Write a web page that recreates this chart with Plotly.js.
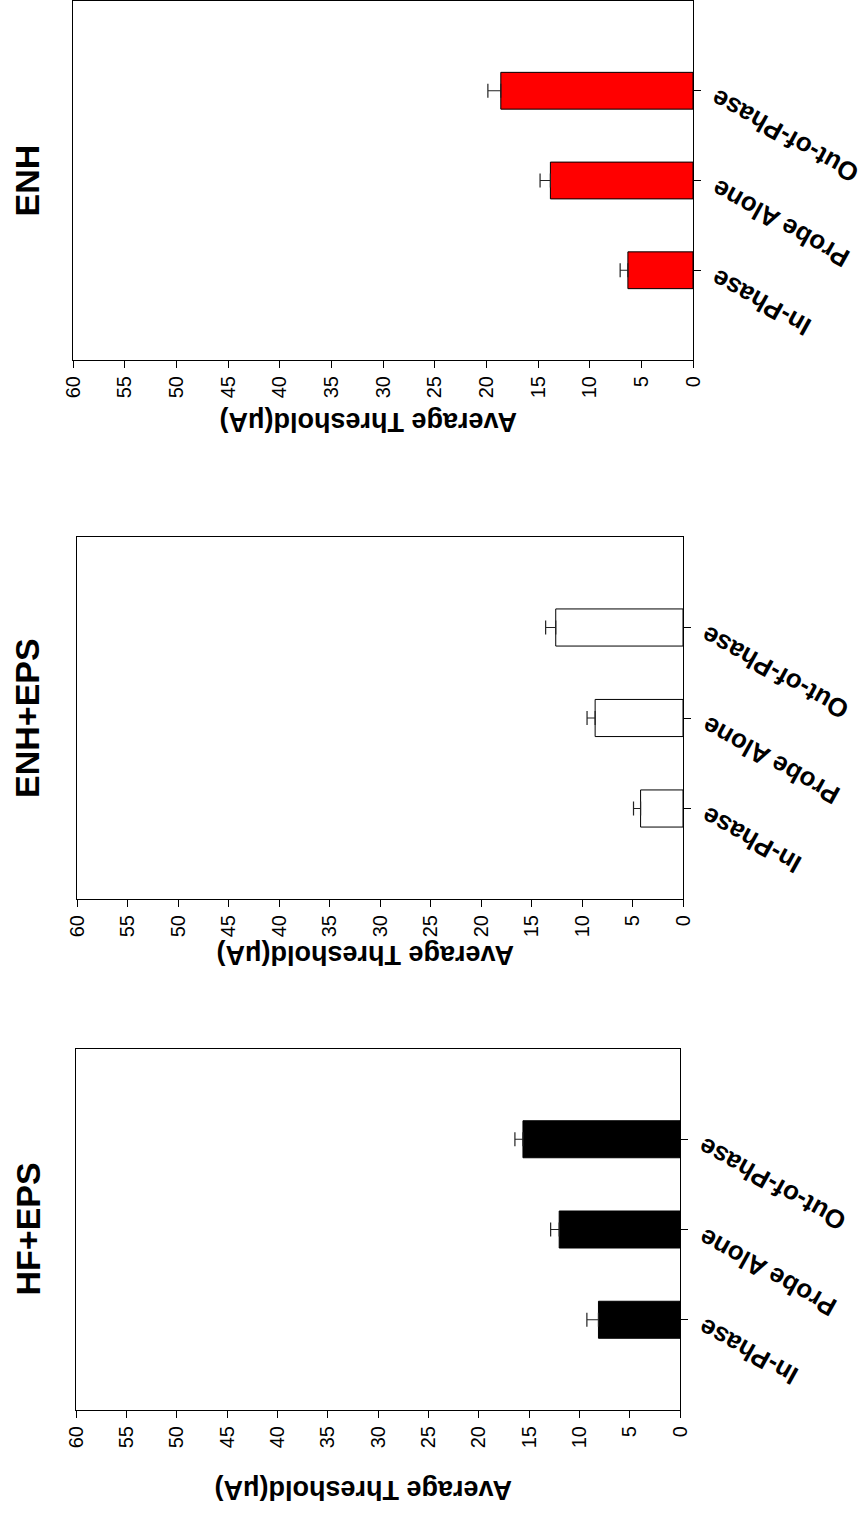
<!DOCTYPE html>
<html>
<head>
<meta charset="utf-8">
<script src="https://cdn.plot.ly/plotly-3.0.1.min.js"></script>
<style>html,body{margin:0;padding:0;background:#fff;}#chart{width:865px;height:1514px;}</style>
</head>
<body>
<div id="chart"></div>
<script>
// ---- data ----
const categories = ['In-Phase', 'Probe Alone', 'Out-of-Phase'];
const panelTitles = ['ENH', 'ENH+EPS', 'HF+EPS'];
const valueTicks = [0, 5, 10, 15, 20, 25, 30, 35, 40, 45, 50, 55, 60];
const axisTitle = 'Average Threshold(μA)';

const enhValues = [6.3, 13.8, 18.6];
const enhErrors = [0.75, 1.0, 1.25];
const enhEpsValues = [4.2, 8.7, 12.6];
const enhEpsErrors = [0.7, 0.8, 1.0];
const hfEpsValues = [8.1, 12.0, 15.6];
const hfEpsErrors = [1.15, 0.85, 0.8];

// ---- layout helpers ----
const W = 865, H = 1514;
const px = v => v / W;
const py = v => 1 - v / H;
const FONT = 'Arial, "Liberation Sans", Helvetica, sans-serif';

// panel boxes in pixels: [left, right, top, bottom]
const boxes = [
  [73, 693, 1, 360],
  [77, 683, 537, 899],
  [76, 680, 1049, 1410]
];
const titleOffsets = [62, 56, 80];
const seriesValues = [enhValues, enhEpsValues, hfEpsValues];
const seriesErrors = [enhErrors, enhEpsErrors, hfEpsErrors];
const fills = ['#ff0000', '#ffffff', '#000000'];

const traces = [];
const layout = {
  width: W, height: H,
  margin: {l: 0, r: 0, t: 0, b: 0},
  paper_bgcolor: '#fff', plot_bgcolor: '#fff',
  showlegend: false,
  font: {family: FONT, color: '#000'},
  annotations: []
};

boxes.forEach((b, i) => {
  const n = i === 0 ? '' : String(i + 1);
  const xa = 'x' + n, ya = 'y' + n;
  traces.push({
    type: 'bar', orientation: 'h',
    x: seriesValues[i], y: categories,
    xaxis: xa, yaxis: ya,
    width: 0.41,
    marker: {color: fills[i], line: {color: '#000', width: 1}},
    error_x: {type: 'data', symmetric: false, array: seriesErrors[i],
              arrayminus: seriesErrors[i].map(() => 0),
              color: '#222', thickness: 1.2, width: 7},
    hoverinfo: 'x+y'
  });
  layout['xaxis' + n] = {
    domain: [px(b[0]), px(b[1])], anchor: ya,
    range: [60, 0], tickvals: valueTicks, ticktext: valueTicks.map(String),
    ticks: 'outside', ticklen: 7, tickwidth: 1, tickcolor: '#000',
    tickangle: -90, tickfont: {size: 20, family: FONT, color: '#000'},
    showline: true, linecolor: '#000', linewidth: 1, mirror: true,
    showgrid: false, zeroline: false, fixedrange: true
  };
  layout['yaxis' + n] = {
    domain: [py(b[3]), py(b[2])], anchor: xa, side: 'right',
    type: 'category', categoryorder: 'array', categoryarray: categories,
    range: [-1, 3],
    ticks: 'outside', ticklen: 7, tickwidth: 1, tickcolor: '#000',
    showticklabels: false,
    showline: true, linecolor: '#000', linewidth: 1, mirror: true,
    showgrid: false, zeroline: false, fixedrange: true
  };
  // category labels
  categories.forEach(c => {
    layout.annotations.push({
      xref: xa + ' domain', x: 1, xanchor: 'left', xshift: 11,
      yref: ya, y: c, yanchor: 'top', yshift: 10,
      text: '<b>' + c + '</b>', showarrow: false, textangle: -151,
      font: {size: 26, family: FONT, color: '#000'}
    });
  });
  // panel title
  layout.annotations.push({
    xref: 'paper', yref: 'paper', x: px(27), y: py((b[2] + b[3]) / 2),
    xanchor: 'center', yanchor: 'middle',
    text: '<b>' + panelTitles[i] + '</b>', showarrow: false, textangle: -90,
    font: {size: 34, family: FONT, color: '#000'}
  });
  // value-axis title (upside down)
  layout.annotations.push({
    xref: 'paper', yref: 'paper', x: px((b[0] + b[1]) / 2 - 15), y: py(b[3] + titleOffsets[i]),
    xanchor: 'center', yanchor: 'middle',
    text: '<b>' + axisTitle + '</b>', showarrow: false, textangle: 180,
    font: {size: 27, family: FONT, color: '#000'}
  });
});

Plotly.newPlot('chart', traces, layout, {staticPlot: true, displayModeBar: false});
</script>
</body>
</html>
